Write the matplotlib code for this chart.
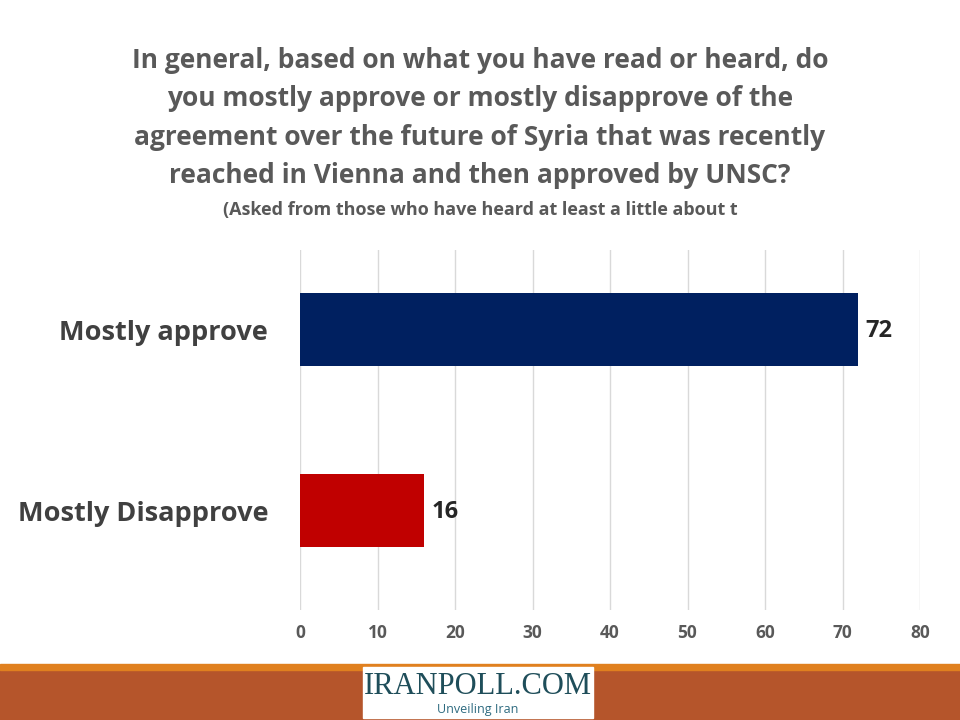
import matplotlib
matplotlib.use("Agg")
import matplotlib.pyplot as plt
from matplotlib.patches import Rectangle

categories = ["Mostly Disapprove", "Mostly approve"]
values = [16, 72]
colors = ["#C00000", "#002060"]
xticks = [0, 10, 20, 30, 40, 50, 60, 70, 80]

plt.rcParams['font.family'] = ['Open Sans', 'DejaVu Sans']
fig = plt.figure(figsize=(9.6, 7.2), dpi=100)
ax = fig.add_axes([300/960, 1-610/720, 620/960, 360/720])
pos = [0, 1]
ax.barh(pos, values, height=0.4, color=colors, zorder=3)
for p, v in zip(pos, values):
    ax.text(v + 1, p - 0.01, str(v), va="center", ha="left", fontsize=17, fontweight="bold", color="#262626")
ax.set_xlim(0, 80)
ax.set_ylim(-0.55, 1.44)
ax.set_xticks(xticks)
ax.set_yticks(pos)
ax.set_yticklabels(categories, fontsize=19.5, fontweight="bold", color="#404040")
ax.tick_params(axis="x", labelsize=12.5, colors="#595959", length=0, pad=10)
ax.tick_params(axis="y", length=0, pad=23)
for lab in ax.get_xticklabels():
    lab.set_fontweight("bold")
ax.grid(axis="x", color="#D9D9D9", linewidth=1, zorder=0)
for s in ax.spines.values():
    s.set_visible(False)

fig.text(0.5, 1-118/720, "In general, based on what you have read or heard, do\nyou mostly approve or mostly disapprove of the\nagreement over the future of Syria that was recently\nreached in Vienna and then approved by UNSC?",
         ha="center", va="center", fontsize=19, fontweight="bold", color="#595959", linespacing=1.55)
fig.text(0.5, 1-210/720, "(Asked from those who have heard at least a little about t",
         ha="center", va="center", fontsize=13, fontweight="bold", color="#595959")

# footer
fig.patches.append(Rectangle((0, 0), 1, 50/720, transform=fig.transFigure, color="#B5552B"))
fig.patches.append(Rectangle((0, 50/720), 1, 6/720, transform=fig.transFigure, color="#E0801F"))
fig.patches.append(Rectangle((363/960, 2/720), 230/960, 51/720, transform=fig.transFigure, color="white", zorder=5))
fig.text(478/960, 1-686/720, "IRANPOLL.COM", ha="center", va="center", fontsize=22,
         family=["Liberation Serif"], color="#1F4E5A", zorder=6)
fig.text(478/960, 1-710/720, "Unveiling Iran", ha="center", va="center", fontsize=9,
         color="#2E6B80", zorder=6)

fig.savefig("out.png", dpi=100)
